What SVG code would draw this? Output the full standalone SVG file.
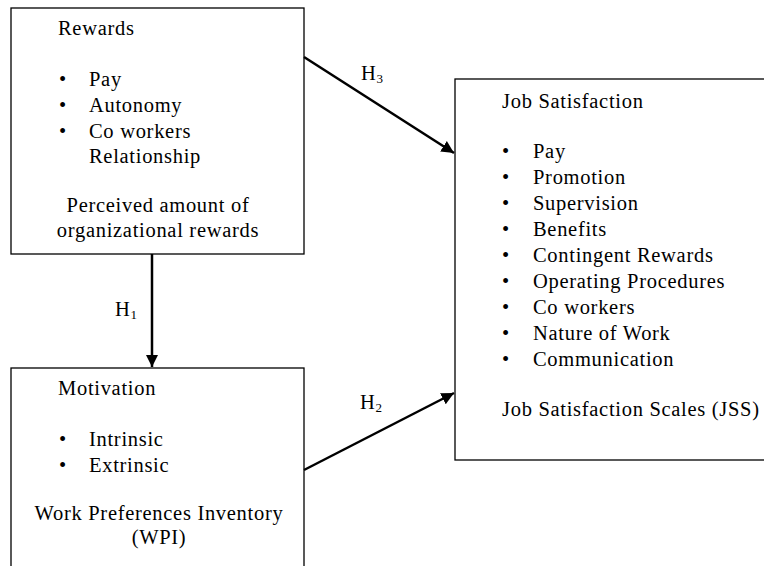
<svg xmlns="http://www.w3.org/2000/svg" width="764" height="566" viewBox="0 0 764 566">
<style>
.box{fill:#fff;stroke:#000;stroke-width:1.3}
text{font-family:"Liberation Serif","Times New Roman",serif;font-size:20.5px;letter-spacing:0.7px;fill:#000}
.c{text-anchor:middle}
.sub{font-size:13px;letter-spacing:0}
.ln{stroke:#000;stroke-width:2.5;fill:none}
</style>
<defs>
<marker id="ah" viewBox="0 0 10 10" refX="10" refY="5" markerWidth="5" markerHeight="5" orient="auto" markerUnits="strokeWidth">
<path d="M0,0 L10,5 L0,10 z" fill="#000"/>
</marker>
</defs>
<rect width="764" height="566" fill="#fff"/>
<g id="rewards">
<rect class="box" x="11" y="8" width="293" height="246"/>
<text x="58" y="35">Rewards</text>
<text x="59" y="86">•</text><text x="89" y="86">Pay</text>
<text x="59" y="112">•</text><text x="89" y="112">Autonomy</text>
<text x="59" y="138">•</text><text x="89" y="138">Co workers</text>
<text x="89" y="163">Relationship</text>
<text class="c" x="158" y="212">Perceived amount of</text>
<text class="c" x="158" y="237">organizational rewards</text>
</g>
<g id="motivation">
<rect class="box" x="11" y="368" width="293" height="210"/>
<text x="58" y="395">Motivation</text>
<text x="59" y="446">•</text><text x="89" y="446">Intrinsic</text>
<text x="59" y="472">•</text><text x="89" y="472">Extrinsic</text>
<text class="c" x="159" y="520">Work Preferences Inventory</text>
<text class="c" x="159" y="544">(WPI)</text>
</g>
<g id="jobsat">
<rect class="box" x="455" y="79" width="320" height="381"/>
<text x="502" y="108">Job Satisfaction</text>
<text x="502" y="158">•</text><text x="533" y="158">Pay</text>
<text x="502" y="184">•</text><text x="533" y="184">Promotion</text>
<text x="502" y="210">•</text><text x="533" y="210">Supervision</text>
<text x="502" y="236">•</text><text x="533" y="236">Benefits</text>
<text x="502" y="262">•</text><text x="533" y="262">Contingent Rewards</text>
<text x="502" y="288">•</text><text x="533" y="288">Operating Procedures</text>
<text x="502" y="314">•</text><text x="533" y="314">Co workers</text>
<text x="502" y="340">•</text><text x="533" y="340">Nature of Work</text>
<text x="502" y="366">•</text><text x="533" y="366">Communication</text>
<text x="502" y="416">Job Satisfaction Scales (JSS)</text>
</g>
<g id="connectors">
<line class="ln" x1="152" y1="254" x2="152" y2="367" marker-end="url(#ah)"/>
<line class="ln" x1="304" y1="57" x2="454" y2="153" marker-end="url(#ah)"/>
<line class="ln" x1="304" y1="470" x2="454" y2="393" marker-end="url(#ah)"/>
<text x="115" y="316">H<tspan class="sub" dy="3">1</tspan></text>
<text x="361" y="80">H<tspan class="sub" dy="3">3</tspan></text>
<text x="360" y="409">H<tspan class="sub" dy="3">2</tspan></text>
</g>
</svg>
